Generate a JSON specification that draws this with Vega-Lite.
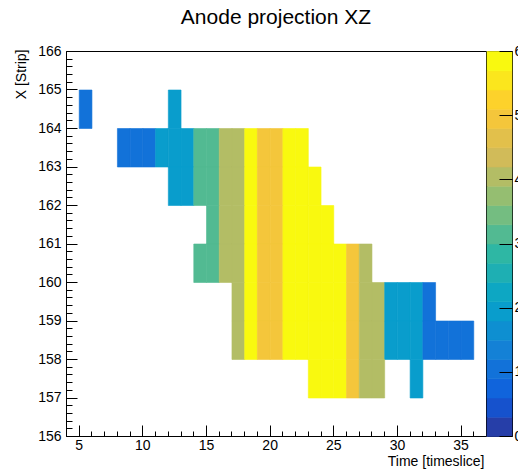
{
  "$schema": "https://vega.github.io/schema/vega-lite/v6.json",
  "autosize": {"type": "pad"},
  "padding": {"left": 13, "top": 6, "right": 0, "bottom": 0},
  "background": "white",
  "spacing": 1,
  "bounds": "flush",
  "config": {
    "view": {"stroke": "black", "strokeWidth": 1},
    "axis": {
      "grid": false,
      "domain": false,
      "labelFont": "Liberation Sans",
      "labelFontSize": 14,
      "labelColor": "black",
      "labelFlush": false,
      "labelOverlap": false,
      "tickColor": "black",
      "tickWidth": 1,
      "titleFont": "Liberation Sans",
      "titleFontSize": 14,
      "titleFontWeight": "normal",
      "titleColor": "black"
    }
  },
  "hconcat": [
    {
      "width": 420,
      "height": 385,
      "title": {
        "text": "Anode projection XZ",
        "font": "Liberation Sans",
        "fontSize": 21,
        "fontWeight": "normal",
        "color": "black",
        "anchor": "middle",
        "frame": "group",
        "baseline": "alphabetic",
        "offset": -1
      },
      "data": {
        "values": [
          {"time": 5, "strip": 164, "counts": 1},
          {"time": 12, "strip": 164, "counts": 2},

          {"time": 8, "strip": 163, "counts": 1},
          {"time": 9, "strip": 163, "counts": 1},
          {"time": 10, "strip": 163, "counts": 1},
          {"time": 11, "strip": 163, "counts": 2},
          {"time": 12, "strip": 163, "counts": 2},
          {"time": 13, "strip": 163, "counts": 2},
          {"time": 14, "strip": 163, "counts": 3},
          {"time": 15, "strip": 163, "counts": 3},
          {"time": 16, "strip": 163, "counts": 4},
          {"time": 17, "strip": 163, "counts": 4},
          {"time": 18, "strip": 163, "counts": 6},
          {"time": 19, "strip": 163, "counts": 5},
          {"time": 20, "strip": 163, "counts": 5},
          {"time": 21, "strip": 163, "counts": 6},
          {"time": 22, "strip": 163, "counts": 6},

          {"time": 12, "strip": 162, "counts": 2},
          {"time": 13, "strip": 162, "counts": 2},
          {"time": 14, "strip": 162, "counts": 3},
          {"time": 15, "strip": 162, "counts": 3},
          {"time": 16, "strip": 162, "counts": 4},
          {"time": 17, "strip": 162, "counts": 4},
          {"time": 18, "strip": 162, "counts": 6},
          {"time": 19, "strip": 162, "counts": 5},
          {"time": 20, "strip": 162, "counts": 5},
          {"time": 21, "strip": 162, "counts": 6},
          {"time": 22, "strip": 162, "counts": 6},
          {"time": 23, "strip": 162, "counts": 6},

          {"time": 15, "strip": 161, "counts": 3},
          {"time": 16, "strip": 161, "counts": 4},
          {"time": 17, "strip": 161, "counts": 4},
          {"time": 18, "strip": 161, "counts": 6},
          {"time": 19, "strip": 161, "counts": 5},
          {"time": 20, "strip": 161, "counts": 5},
          {"time": 21, "strip": 161, "counts": 6},
          {"time": 22, "strip": 161, "counts": 6},
          {"time": 23, "strip": 161, "counts": 6},
          {"time": 24, "strip": 161, "counts": 6},

          {"time": 14, "strip": 160, "counts": 3},
          {"time": 15, "strip": 160, "counts": 3},
          {"time": 16, "strip": 160, "counts": 4},
          {"time": 17, "strip": 160, "counts": 4},
          {"time": 18, "strip": 160, "counts": 6},
          {"time": 19, "strip": 160, "counts": 5},
          {"time": 20, "strip": 160, "counts": 5},
          {"time": 21, "strip": 160, "counts": 6},
          {"time": 22, "strip": 160, "counts": 6},
          {"time": 23, "strip": 160, "counts": 6},
          {"time": 24, "strip": 160, "counts": 6},
          {"time": 25, "strip": 160, "counts": 6},
          {"time": 26, "strip": 160, "counts": 5},
          {"time": 27, "strip": 160, "counts": 4},

          {"time": 17, "strip": 159, "counts": 4},
          {"time": 18, "strip": 159, "counts": 6},
          {"time": 19, "strip": 159, "counts": 5},
          {"time": 20, "strip": 159, "counts": 5},
          {"time": 21, "strip": 159, "counts": 6},
          {"time": 22, "strip": 159, "counts": 6},
          {"time": 23, "strip": 159, "counts": 6},
          {"time": 24, "strip": 159, "counts": 6},
          {"time": 25, "strip": 159, "counts": 6},
          {"time": 26, "strip": 159, "counts": 5},
          {"time": 27, "strip": 159, "counts": 4},
          {"time": 28, "strip": 159, "counts": 4},
          {"time": 29, "strip": 159, "counts": 2},
          {"time": 30, "strip": 159, "counts": 2},
          {"time": 31, "strip": 159, "counts": 2},
          {"time": 32, "strip": 159, "counts": 1},

          {"time": 17, "strip": 158, "counts": 4},
          {"time": 18, "strip": 158, "counts": 6},
          {"time": 19, "strip": 158, "counts": 5},
          {"time": 20, "strip": 158, "counts": 5},
          {"time": 21, "strip": 158, "counts": 6},
          {"time": 22, "strip": 158, "counts": 6},
          {"time": 23, "strip": 158, "counts": 6},
          {"time": 24, "strip": 158, "counts": 6},
          {"time": 25, "strip": 158, "counts": 6},
          {"time": 26, "strip": 158, "counts": 5},
          {"time": 27, "strip": 158, "counts": 4},
          {"time": 28, "strip": 158, "counts": 4},
          {"time": 29, "strip": 158, "counts": 2},
          {"time": 30, "strip": 158, "counts": 2},
          {"time": 31, "strip": 158, "counts": 2},
          {"time": 32, "strip": 158, "counts": 1},
          {"time": 33, "strip": 158, "counts": 1},
          {"time": 34, "strip": 158, "counts": 1},
          {"time": 35, "strip": 158, "counts": 1},

          {"time": 23, "strip": 157, "counts": 6},
          {"time": 24, "strip": 157, "counts": 6},
          {"time": 25, "strip": 157, "counts": 6},
          {"time": 26, "strip": 157, "counts": 5},
          {"time": 27, "strip": 157, "counts": 4},
          {"time": 28, "strip": 157, "counts": 4},
          {"time": 31, "strip": 157, "counts": 2}
        ]
      },
      "layer": [
        {
          "mark": {"type": "rect", "strokeWidth": 0.6},
          "encoding": {
            "x": {
              "field": "time",
              "type": "quantitative",
              "bin": {"step": 1, "extent": [4, 37]},
              "scale": {"domain": [4, 37], "nice": false, "zero": false},
              "axis": {
                "orient": "bottom",
                "values": [5, 10, 15, 20, 25, 30, 35],
                "tickSize": -11,
                "labelPadding": 13,
                "title": "Time [timeslice]",
                "titleAnchor": "end",
                "titleAlign": "right",
                "titleBaseline": "alphabetic",
                "titleX": 418,
                "titleY": 29
              }
            },
            "y": {
              "field": "strip",
              "type": "quantitative",
              "bin": {"step": 1, "extent": [156, 166]},
              "scale": {"domain": [156, 166], "nice": false, "zero": false},
              "axis": {
                "orient": "left",
                "values": [156, 157, 158, 159, 160, 161, 162, 163, 164, 165, 166],
                "tickSize": -11,
                "labelPadding": 16,
                "title": "X [Strip]",
                "titleAngle": -90,
                "titleAlign": "right",
                "titleBaseline": "alphabetic",
                "titleX": -41,
                "titleY": -2
              }
            },
            "color": {
              "field": "counts",
              "type": "quantitative",
              "scale": {
                "type": "quantize",
                "domain": [0, 6],
                "nice": false,
                "range": [
                  "#263ea8", "#1652cd", "#1064dc", "#1272d9", "#1481d6",
                  "#0e8fd1", "#099dcc", "#0da7c3", "#1eafb3", "#2eb7a4",
                  "#52ba92", "#74bd81", "#95be71", "#b3bd65", "#d1bb59",
                  "#e2c04b", "#f4c63b", "#fdd22b", "#fbe61d", "#f9f90f"
                ]
              },
              "legend": null
            },
            "stroke": {
              "field": "counts",
              "type": "quantitative",
              "scale": {
                "type": "quantize",
                "domain": [0, 6],
                "nice": false,
                "range": [
                  "#263ea8", "#1652cd", "#1064dc", "#1272d9", "#1481d6",
                  "#0e8fd1", "#099dcc", "#0da7c3", "#1eafb3", "#2eb7a4",
                  "#52ba92", "#74bd81", "#95be71", "#b3bd65", "#d1bb59",
                  "#e2c04b", "#f4c63b", "#fdd22b", "#fbe61d", "#f9f90f"
                ]
              },
              "legend": null
            }
          }
        },
        {
          "mark": {"type": "point", "opacity": 0},
          "encoding": {
            "x": {
              "field": "time",
              "type": "quantitative",
              "scale": {"domain": [4, 37], "nice": false, "zero": false},
              "axis": {
                "orient": "bottom",
                "values": [4, 5, 6, 7, 8, 9, 10, 11, 12, 13, 14, 15, 16, 17, 18, 19, 20, 21, 22, 23, 24, 25, 26, 27, 28, 29, 30, 31, 32, 33, 34, 35, 36, 37],
                "tickSize": -5,
                "labels": false,
                "title": null
              }
            },
            "y": {
              "field": "strip",
              "type": "quantitative",
              "scale": {"domain": [156, 166], "nice": false, "zero": false},
              "axis": {
                "orient": "left",
                "values": [156, 156.2, 156.4, 156.6, 156.8, 157, 157.2, 157.4, 157.6, 157.8, 158, 158.2, 158.4, 158.6, 158.8, 159, 159.2, 159.4, 159.6, 159.8, 160, 160.2, 160.4, 160.6, 160.8, 161, 161.2, 161.4, 161.6, 161.8, 162, 162.2, 162.4, 162.6, 162.8, 163, 163.2, 163.4, 163.6, 163.8, 164, 164.2, 164.4, 164.6, 164.8, 165, 165.2, 165.4, 165.6, 165.8, 166],
                "tickSize": -6,
                "labels": false,
                "title": null
              }
            }
          }
        }
      ],
      "resolve": {
        "scale": {"x": "independent", "y": "independent"},
        "axis": {"x": "independent", "y": "independent"}
      }
    },
    {
      "width": 25,
      "height": 385,
      "data": {
        "values": [
          {"level": 0.15}, {"level": 0.45}, {"level": 0.75}, {"level": 1.05},
          {"level": 1.35}, {"level": 1.65}, {"level": 1.95}, {"level": 2.25},
          {"level": 2.55}, {"level": 2.85}, {"level": 3.15}, {"level": 3.45},
          {"level": 3.75}, {"level": 4.05}, {"level": 4.35}, {"level": 4.65},
          {"level": 4.95}, {"level": 5.25}, {"level": 5.55}, {"level": 5.85}
        ]
      },
      "mark": {"type": "rect", "strokeWidth": 0.6},
      "encoding": {
        "y": {
          "field": "level",
          "type": "quantitative",
          "bin": {"step": 0.3, "extent": [0, 6], "nice": false},
          "scale": {"domain": [0, 6], "nice": false, "zero": false},
          "axis": {
            "orient": "right",
            "values": [0, 1, 2, 3, 4, 5, 6],
            "tickSize": -13,
            "labelPadding": 15,
            "title": null
          }
        },
        "color": {
          "field": "level",
          "type": "quantitative",
          "scale": {
            "type": "quantize",
            "domain": [0, 6],
            "nice": false,
            "range": [
              "#263ea8", "#1652cd", "#1064dc", "#1272d9", "#1481d6",
              "#0e8fd1", "#099dcc", "#0da7c3", "#1eafb3", "#2eb7a4",
              "#52ba92", "#74bd81", "#95be71", "#b3bd65", "#d1bb59",
              "#e2c04b", "#f4c63b", "#fdd22b", "#fbe61d", "#f9f90f"
            ]
          },
          "legend": null
        },
        "stroke": {
          "field": "level",
          "type": "quantitative",
          "scale": {
            "type": "quantize",
            "domain": [0, 6],
            "nice": false,
            "range": [
              "#263ea8", "#1652cd", "#1064dc", "#1272d9", "#1481d6",
              "#0e8fd1", "#099dcc", "#0da7c3", "#1eafb3", "#2eb7a4",
              "#52ba92", "#74bd81", "#95be71", "#b3bd65", "#d1bb59",
              "#e2c04b", "#f4c63b", "#fdd22b", "#fbe61d", "#f9f90f"
            ]
          },
          "legend": null
        }
      }
    }
  ]
}
